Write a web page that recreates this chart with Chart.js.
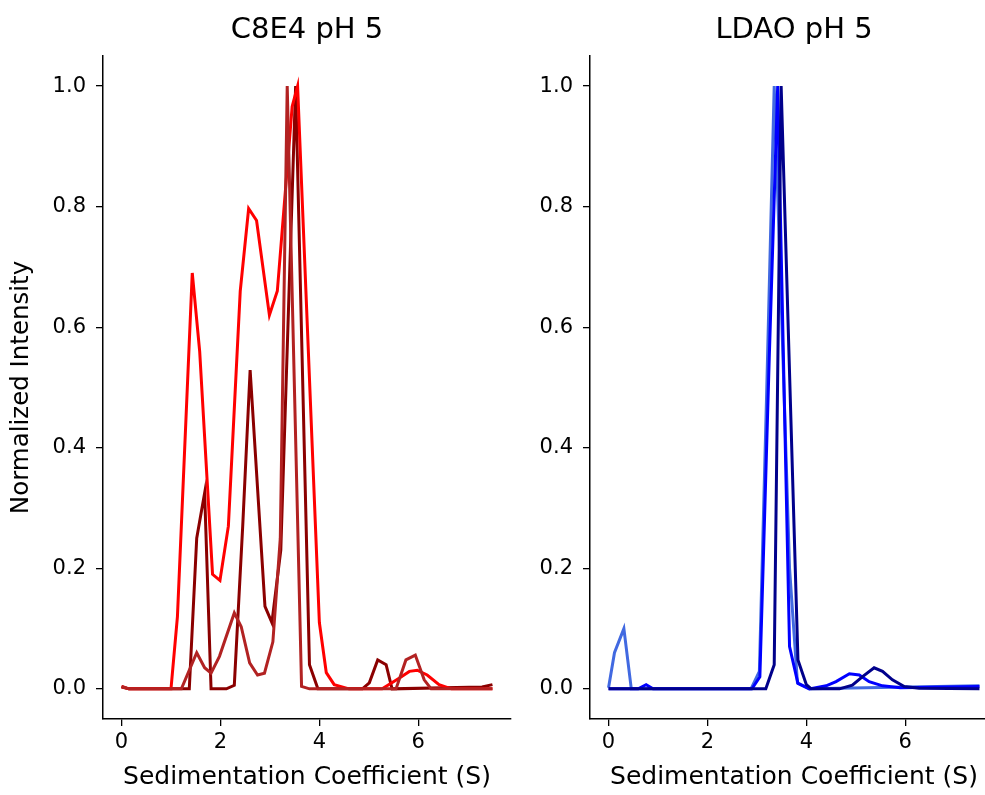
<!DOCTYPE html>
<html>
<head>
<meta charset="utf-8">
<script src="https://cdn.jsdelivr.net/npm/chart.js@4.4.0/dist/chart.umd.min.js"></script>
<style>
  html, body { margin: 0; padding: 0; background: #fff; overflow: hidden; width: 985px; height: 795px; }
  canvas { position: absolute; top: 0; }
  #c1 { left: 0; }
  #c2 { left: 487px; }
</style>
</head>
<body>
<canvas id="c1" width="520" height="795"></canvas>
<canvas id="c2" width="520" height="795"></canvas>
<script>
// ---------- data ----------
const titles = ['C8E4 pH 5', 'LDAO pH 5'];
const xTitle = 'Sedimentation Coefficient (S)';
const yTitle = 'Normalized Intensity';
const xTicks = [0, 2, 4, 6];
const yTicks = [0.0, 0.2, 0.4, 0.6, 0.8, 1.0];

// C8E4 pH 5
const redX = [0, 0.15, 1.0, 1.13, 1.43, 1.58, 1.84, 1.99, 2.16, 2.40, 2.57, 2.73, 2.99, 3.15, 3.45, 3.56, 4.00, 4.14, 4.30, 4.6, 5.27, 5.62, 5.82, 5.98, 6.18, 6.42, 6.67, 7.5];
const redY = [0.004, 0, 0, 0.12, 0.69, 0.56, 0.19, 0.18, 0.27, 0.66, 0.797, 0.777, 0.62, 0.66, 0.966, 1.0, 0.11, 0.027, 0.007, 0, 0, 0.018, 0.029, 0.031, 0.023, 0.007, 0, 0];

const darkredX = [0, 0.15, 1.37, 1.52, 1.68, 1.81, 2.12, 2.28, 2.45, 2.60, 2.90, 3.04, 3.22, 3.52, 3.80, 3.97, 4.87, 5.01, 5.18, 5.35, 5.47, 7.29, 7.5];
const darkredY = [0.003, 0, 0, 0.25, 0.325, 0, 0, 0.006, 0.27, 0.529, 0.137, 0.11, 0.23, 1.0, 0.04, 0, 0, 0.01, 0.048, 0.04, 0, 0.003, 0.007];

const firebrickX = [0, 0.15, 1.21, 1.52, 1.68, 1.81, 1.98, 2.28, 2.42, 2.59, 2.75, 2.89, 3.06, 3.21, 3.35, 3.64, 3.8, 5.55, 5.75, 5.94, 6.12, 6.26, 7.5];
const firebrickY = [0.004, 0, 0, 0.06, 0.035, 0.026, 0.054, 0.126, 0.103, 0.043, 0.023, 0.026, 0.078, 0.25, 1.0, 0.004, 0, 0, 0.048, 0.056, 0.015, 0, 0];

// LDAO pH 5
const royalX = [0, 0.12, 0.31, 0.46, 2.88, 3.05, 3.2, 3.35, 3.5, 3.66, 3.82, 4.06, 7.5];
const royalY = [0.002, 0.06, 0.10, 0, 0, 0.029, 0.5, 1.0, 0.62, 0.2, 0.01, 0, 0.005];

const blueX = [0, 0.6, 0.76, 0.9, 2.9, 3.06, 3.25, 3.42, 3.66, 3.83, 4.06, 4.4, 4.6, 4.87, 5.07, 5.27, 5.54, 5.9, 7.5];
const blueY = [0, 0, 0.007, 0, 0, 0.02, 0.55, 1.0, 0.07, 0.009, 0, 0.005, 0.012, 0.025, 0.023, 0.012, 0.005, 0.002, 0.004];

const darkblueX = [0, 3.18, 3.35, 3.49, 3.83, 4.0, 4.1, 4.67, 4.93, 5.13, 5.37, 5.54, 5.74, 5.98, 6.28, 7.5];
const darkblueY = [0, 0, 0.04, 1.0, 0.048, 0.007, 0, 0, 0.006, 0.02, 0.035, 0.029, 0.015, 0.004, 0.001, 0];

// ---------- styles ----------
const FONT = 'DejaVu Sans';
const leftSets = [
  { xs: firebrickX, ys: firebrickY, color: '#b22222' },
  { xs: redX, ys: redY, color: '#ff0000' },
  { xs: darkredX, ys: darkredY, color: '#8b0000' }
];
const rightSets = [
  { xs: darkblueX, ys: darkblueY, color: '#00008b' },
  { xs: blueX, ys: blueY, color: '#0000ff' },
  { xs: royalX, ys: royalY, color: '#4169e1' }
];

function toPoints(xs, ys) { return xs.map((x, i) => ({ x: x, y: ys[i] })); }

function makeChart(id, title, sets, showYTitle) {
  const ctx = document.getElementById(id);
  return new Chart(ctx, {
    type: 'line',
    data: {
      datasets: sets.map(s => ({
        data: toPoints(s.xs, s.ys),
        borderColor: s.color,
        backgroundColor: s.color,
        borderWidth: 3,
        pointRadius: 0,
        tension: 0,
        fill: false
      }))
    },
    options: {
      responsive: false,
      devicePixelRatio: 1,
      animation: false,
      layout: { padding: { left: 0, right: 9, top: 0, bottom: 0 } },
      plugins: {
        legend: { display: false },
        tooltip: { enabled: false },
        title: {
          display: true,
          text: title,
          fullSize: false,
          color: '#000',
          font: { family: FONT, size: 29, weight: 'normal', lineHeight: 1.2 },
          padding: { top: 13, bottom: 8.2 }
        }
      },
      scales: {
        x: {
          type: 'linear',
          min: -0.375,
          max: 7.875,
          afterFit: s => { s.height = 76; },
          afterBuildTicks: s => { s.ticks = xTicks.map(v => ({ value: v })); },
          ticks: {
            color: '#000',
            font: { family: FONT, size: 21 },
            padding: 4,
            maxRotation: 0,
            callback: v => String(v)
          },
          grid: { drawOnChartArea: false, drawTicks: true, tickLength: 7, color: '#000', lineWidth: 1.3 },
          border: { display: true, color: '#000', width: 1.5 },
          title: {
            display: true,
            text: xTitle,
            color: '#000',
            font: { family: FONT, size: 25, lineHeight: 1.2 },
            padding: { top: 0, bottom: 3 }
          }
        },
        y: {
          type: 'linear',
          min: -0.05,
          max: 1.05,
          afterFit: s => { s.width = 103; },
          afterBuildTicks: s => { s.ticks = yTicks.map(v => ({ value: v })); },
          ticks: {
            color: '#000',
            font: { family: FONT, size: 21 },
            padding: 10,
            callback: v => Number(v).toFixed(1)
          },
          grid: { drawOnChartArea: false, drawTicks: true, tickLength: 7, color: '#000', lineWidth: 1.3 },
          border: { display: true, color: '#000', width: 1.5 },
          title: {
            display: showYTitle,
            text: yTitle,
            color: '#000',
            font: { family: FONT, size: 24.5, lineHeight: 1.2 },
            padding: { top: 7, bottom: 0 }
          }
        }
      }
    }
  });
}

makeChart('c1', titles[0], leftSets, true);
makeChart('c2', titles[1], rightSets, false);
</script>
</body>
</html>
